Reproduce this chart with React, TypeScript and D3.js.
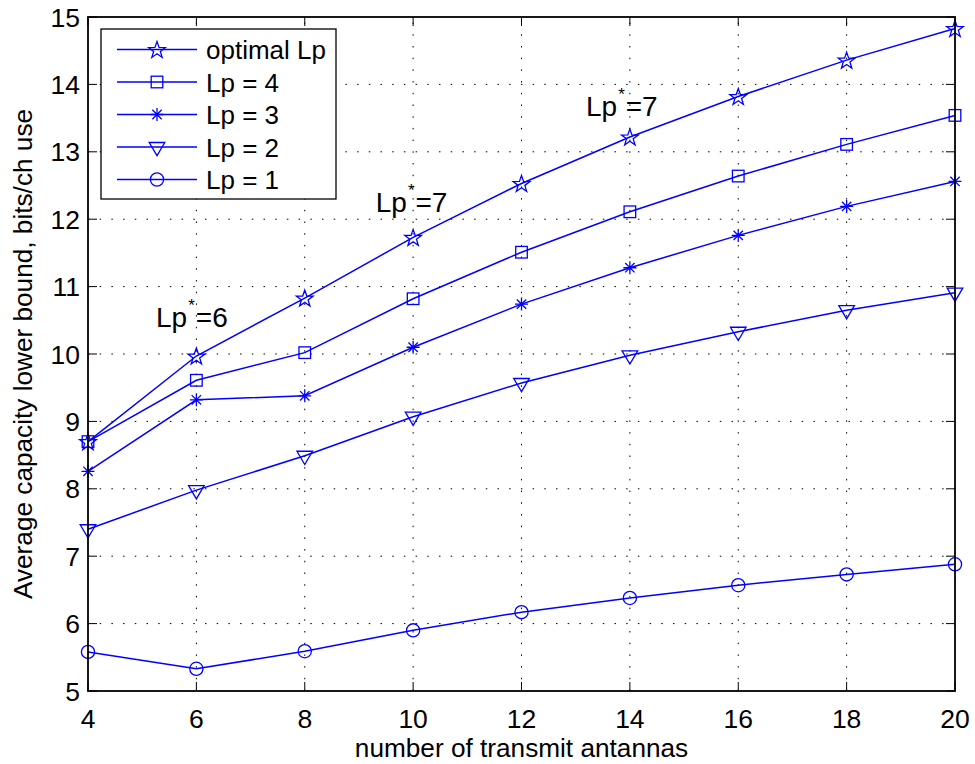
import React from "react";
import * as d3 from "d3";

const antennas = [4, 6, 8, 10, 12, 14, 16, 18, 20];
const optimalLp = [8.70, 9.97, 10.83, 11.73, 12.53, 13.22, 13.82, 14.36, 14.83];
const lp4 = [8.70, 9.61, 10.02, 10.82, 11.51, 12.11, 12.64, 13.11, 13.54];
const lp3 = [8.26, 9.32, 9.38, 10.10, 10.74, 11.28, 11.76, 12.19, 12.56];
const lp2 = [7.40, 7.98, 8.49, 9.07, 9.57, 9.98, 10.33, 10.65, 10.91];
const lp1 = [5.58, 5.33, 5.59, 5.90, 6.17, 6.38, 6.57, 6.73, 6.88];

const seriesNames = ["optimal Lp", "Lp = 4", "Lp = 3", "Lp = 2", "Lp = 1"];
const seriesMarkers = ["star", "square", "asterisk", "triangle", "circle"];
const seriesValues = [optimalLp, lp4, lp3, lp2, lp1];

const xTicks = [4, 6, 8, 10, 12, 14, 16, 18, 20];
const yTicks = [5, 6, 7, 8, 9, 10, 11, 12, 13, 14, 15];

const annotations = [
  { x: 5.255, y: 10.40, text: "Lp", sup: "*", rest: "=6" },
  { x: 9.31, y: 12.11, text: "Lp", sup: "*", rest: "=7" },
  { x: 13.19, y: 13.53, text: "Lp", sup: "*", rest: "=7" },
];

const BLUE = "#0000ff";
const FONT = "'Liberation Sans', Arial, Helvetica, sans-serif";

function Marker({ type, cx, cy }: { type: string; cx: number; cy: number }) {
  const common = { fill: "none", stroke: BLUE, strokeWidth: 1.3 };
  if (type === "circle") return <circle cx={cx} cy={cy} r={6.6} {...common} />;
  if (type === "square") return <rect x={cx - 5.8} y={cy - 5.8} width={11.6} height={11.6} {...common} />;
  if (type === "triangle") {
    const p = `${cx - 7.8},${cy - 4.5} ${cx + 7.8},${cy - 4.5} ${cx},${cy + 8.7}`;
    return <polygon points={p} {...common} />;
  }
  if (type === "asterisk") {
    const r = 6.5;
    const d = r * 0.72;
    const path = `M${cx - r},${cy}L${cx + r},${cy}M${cx},${cy - r}L${cx},${cy + r}M${cx - d},${cy - d}L${cx + d},${cy + d}M${cx - d},${cy + d}L${cx + d},${cy - d}`;
    return <path d={path} {...common} />;
  }
  const outer = 8.8;
  const inner = 3.5;
  const pts: string[] = [];
  for (let i = 0; i < 10; i++) {
    const ang = -Math.PI / 2 + (i * Math.PI) / 5;
    const rr = i % 2 === 0 ? outer : inner;
    pts.push(`${cx + rr * Math.cos(ang)},${cy + rr * Math.sin(ang) + 0.8}`);
  }
  return <polygon points={pts.join(" ")} {...common} />;
}

export default function App() {
  const W = 975;
  const H = 764;
  const left = 88, right = 955, top = 17, bottom = 691;
  const x = d3.scaleLinear().domain([4, 20]).range([left, right]);
  const y = d3.scaleLinear().domain([5, 15]).range([bottom, top]);
  const line = d3
    .line<number>()
    .x((_, i) => x(antennas[i]))
    .y((d) => y(d));

  const tickLen = 9;
  const legX = 101, legY = 29, legW = 235, legH = 170;
  const rowY = (i: number) => legY + 20.5 + i * 32.5;

  return (
    <svg
      width={W}
      height={H}
      style={{ position: "absolute", left: 0, top: 0, display: "block", background: "#fff" }}
      fontFamily={FONT}
    >
      <rect x={0} y={0} width={W} height={H} fill="#fff" />
      <g stroke="#000" strokeWidth={1} strokeDasharray="1.5 10.2">
        {xTicks.slice(1, -1).map((t) => (
          <line key={"gx" + t} x1={x(t)} x2={x(t)} y1={bottom} y2={top} />
        ))}
        {yTicks.slice(1, -1).map((t) => (
          <line key={"gy" + t} x1={left} x2={right} y1={y(t)} y2={y(t)} />
        ))}
      </g>
      <g stroke="#000" strokeWidth={1}>
        {xTicks.map((t) => (
          <g key={"tx" + t}>
            <line x1={x(t)} x2={x(t)} y1={bottom} y2={bottom - tickLen} />
            <line x1={x(t)} x2={x(t)} y1={top} y2={top + tickLen} />
          </g>
        ))}
        {yTicks.map((t) => (
          <g key={"ty" + t}>
            <line x1={left} x2={left + tickLen} y1={y(t)} y2={y(t)} />
            <line x1={right} x2={right - tickLen} y1={y(t)} y2={y(t)} />
          </g>
        ))}
      </g>
      {seriesValues.map((vals, si) => (
        <g key={"s" + si}>
          <path d={line(vals) || ""} fill="none" stroke={BLUE} strokeWidth={1.5} />
          {vals.map((v, i) => (
            <Marker key={i} type={seriesMarkers[si]} cx={x(antennas[i])} cy={y(v)} />
          ))}
        </g>
      ))}
      <rect x={left} y={top} width={right - left} height={bottom - top} fill="none" stroke="#000" strokeWidth={1.8} />
      <g fontSize={26.5} fill="#000">
        {xTicks.map((t) => (
          <text key={"lx" + t} x={x(t)} y={728} textAnchor="middle">
            {t}
          </text>
        ))}
        {yTicks.map((t) => (
          <text key={"ly" + t} x={80} y={y(t) + 9.5} textAnchor="end">
            {t}
          </text>
        ))}
      </g>
      <text x={(left + right) / 2} y={757} textAnchor="middle" fontSize={26.2} fill="#000">
        number of transmit antannas
      </text>
      <text
        transform={`translate(31.5,${(top + bottom) / 2}) rotate(-90)`}
        textAnchor="middle"
        fontSize={26.2}
        fill="#000"
      >
        Average capacity lower bound, bits/ch use
      </text>
      {annotations.map((a, i) => (
        <text key={"an" + i} x={x(a.x)} y={y(a.y)} fontSize={28} fill="#000">
          {a.text}
          <tspan fontSize={17} dy={-16} dx={1}>
            {a.sup}
          </tspan>
          <tspan dy={16} dx={1}>{a.rest}</tspan>
        </text>
      ))}
      <rect x={legX} y={legY} width={legW} height={legH} fill="#fff" stroke="#000" strokeWidth={1.3} />
      {seriesNames.map((name, i) => (
        <g key={"lg" + i}>
          <line x1={117} x2={197} y1={rowY(i)} y2={rowY(i)} stroke={BLUE} strokeWidth={1.5} />
          <Marker type={seriesMarkers[i]} cx={157} cy={rowY(i)} />
          <text x={206} y={rowY(i) + 9.5} fontSize={26} fill="#000">
            {name}
          </text>
        </g>
      ))}
    </svg>
  );
}
